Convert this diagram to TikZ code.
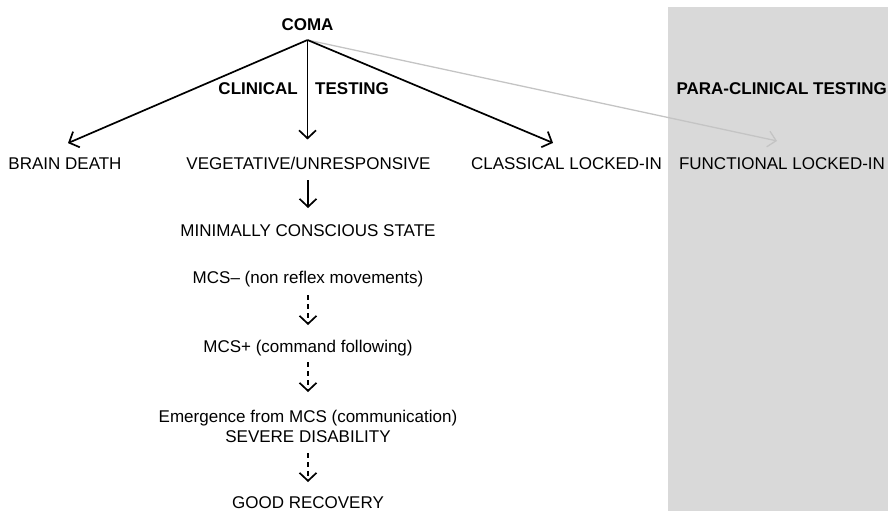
\documentclass[tikz,border=0pt]{standalone}
\usepackage{fontspec}
\setmainfont{Liberation Sans}
\usetikzlibrary{arrows.meta,calc}
\definecolor{panelgrey}{RGB}{217,217,217}
\definecolor{linegrey}{RGB}{196,196,196}
\begin{document}
\begin{tikzpicture}[x=1pt,y=-1pt,
  lbl/.style={font=\fontsize{17}{20}\selectfont, inner sep=0pt, anchor=base},
  hd/.style={font=\bfseries\fontsize{17}{20}\selectfont, inner sep=0pt, anchor=base},
  arr/.style={line width=1.7pt, -{Straight Barb[length=8pt,width=17pt,line width=1.7pt]}},
  garr/.style={line width=1.3pt, linegrey, -{Straight Barb[length=8pt,width=16pt,line width=1.3pt]}},
  darr/.style={arr, dash pattern=on 5pt off 4pt}]
\useasboundingbox (0,0) rectangle (888,511);
\fill[panelgrey] (668,7) rectangle (888,511);

\node[hd] (coma) at (307.5,31) {COMA};
\node[hd, anchor=base east] (clin) at (298,94) {CLINICAL};
\node[hd, anchor=base west] (test) at (315,94) {TESTING};
\node[hd, anchor=base east] (para) at (887,94) {PARA-CLINICAL TESTING};

\node[lbl] (bd) at (65,169) {BRAIN DEATH};
\node[lbl] (veg) at (308.5,169) {VEGETATIVE/UNRESPONSIVE};
\node[lbl] (cli) at (566.5,169) {CLASSICAL LOCKED-IN};
\node[lbl] (fli) at (782,169) {FUNCTIONAL LOCKED-IN};

\node[lbl] (mcs) at (308,236) {MINIMALLY CONSCIOUS STATE};
\node[lbl] (mcsm) at (308,283) {MCS– (non reflex movements)};
\node[lbl] (mcsp) at (308,352) {MCS+ (command following)};
\node[lbl] (emer) at (308,422) {Emergence from MCS (communication)};
\node[lbl] (sev) at (308,442) {SEVERE DISABILITY};
\node[lbl] (good) at (308,508) {GOOD RECOVERY};

\coordinate (apex) at ($(coma.base)+(0,9)$);
\draw[garr] (apex) -- ($(fli.north)+(-5,-16)$);
\draw[arr] (apex) -- ($(bd.north)+(3,-14)$);
\draw[arr] (apex) -- ($(apex |- veg.north)+(0,-17)$);
\draw[arr] (apex) -- ($(cli.north)+(-13.5,-14)$);

\draw[arr] ($(mcs.base)+(0,-56)$) -- ($(mcs.base)+(0,-28)$);
\draw[darr] ($(mcsm.base)+(0,12)$) -- ($(mcsp.base)+(0,-27)$);
\draw[darr] ($(mcsp.base)+(0,10)$) -- ($(emer.base)+(0,-30)$);
\draw[darr] ($(sev.base)+(0,11)$) -- ($(good.base)+(0,-26)$);
\end{tikzpicture}
\end{document}
